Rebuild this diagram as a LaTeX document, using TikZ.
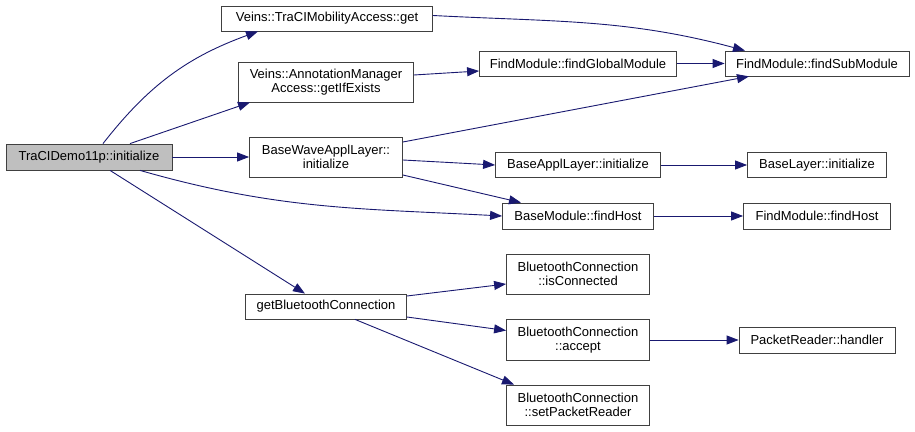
\documentclass[tikz,border=0pt]{standalone}
\usepackage{fontspec}
\setmainfont{Liberation Sans}
\usetikzlibrary{arrows.meta}
\definecolor{navy}{HTML}{191970}

\begin{document}
\begin{tikzpicture}[x=1pt, y=1pt,
	fn/.style={draw=black!75, line width=0.8pt, fill=white, align=center, inner sep=1pt,
		font=\fontsize{13}{13.4}\selectfont},
	call/.style={draw=navy, line width=0.9pt, -{Triangle[length=12pt,width=9pt]}}]
	\useasboundingbox (0,0) rectangle (915,431);
	\node[fn, fill=black!25, minimum width=166, minimum height=26] (demo) at (89,274) {TraCIDemo11p::initialize};
	\node[fn, minimum width=211, minimum height=25] (get) at (327,412.5) {Veins::TraCIMobilityAccess::get};
	\node[fn, minimum width=175, minimum height=40] (annot) at (326,349) {Veins::AnnotationManager\\Access::getIfExists};
	\node[fn, minimum width=153, minimum height=40] (wave) at (326,274) {BaseWaveApplLayer::\\initialize};
	\node[fn, minimum width=161, minimum height=25] (btconn) at (326,124.5) {getBluetoothConnection};
	\node[fn, minimum width=197, minimum height=25] (global) at (578,367.5) {FindModule::findGlobalModule};
	\node[fn, minimum width=184, minimum height=25] (sub) at (817,367.5) {FindModule::findSubModule};
	\node[fn, minimum width=165, minimum height=25] (appl) at (578,266) {BaseApplLayer::initialize};
	\node[fn, minimum width=139, minimum height=25] (layer) at (817,266) {BaseLayer::initialize};
	\node[fn, minimum width=151, minimum height=26] (bmhost) at (578,215) {BaseModule::findHost};
	\node[fn, minimum width=147, minimum height=26] (fmhost) at (817,215) {FindModule::findHost};
	\node[fn, minimum width=143, minimum height=40] (isconn) at (578,157) {BluetoothConnection\\::isConnected};
	\node[fn, minimum width=143, minimum height=41] (accept) at (578,91) {BluetoothConnection\\::accept};
	\node[fn, minimum width=156, minimum height=26] (handler) at (817,91) {PacketReader::handler};
	\node[fn, minimum width=143, minimum height=40] (setpr) at (578,26) {BluetoothConnection\\::setPacketReader};

	\draw[call] ([xshift=14]demo.north) to[out=52,in=200] ([xshift=-69]get.south);
	\draw[call] ([xshift=41]demo.north) -- ([xshift=-76]annot.south);
	\draw[call] (demo.east) -- (wave.west);
	\draw[call] ([xshift=51]demo.south) to[out=-16,in=177] (bmhost.west);
	\draw[call] ([xshift=21]demo.south) -- ([xshift=-21]btconn.north);
	\draw[call] ([yshift=3]get.east) to[out=-3,in=165] ([xshift=-72]sub.north);
	\draw[call] ([yshift=7]annot.east) -- ([yshift=-7.5]global.west);
	\draw[call] (global.east) -- (sub.west);
	\draw[call] ([yshift=15]wave.east) -- ([xshift=-68]sub.south);
	\draw[call] ([yshift=-3]wave.east) -- (appl.west);
	\draw[call] ([yshift=-18]wave.east) -- ([xshift=-57]bmhost.north);
	\draw[call] (appl.east) -- (layer.west);
	\draw[call] (bmhost.east) -- (fmhost.west);
	\draw[call] ([yshift=10.5]btconn.east) -- ([yshift=-10]isconn.west);
	\draw[call] ([yshift=-10.5]btconn.east) -- ([yshift=9.5]accept.west);
	\draw[call] ([xshift=29]btconn.south) -- ([xshift=-64]setpr.north);
	\draw[call] (accept.east) -- (handler.west);
\end{tikzpicture}
\end{document}
